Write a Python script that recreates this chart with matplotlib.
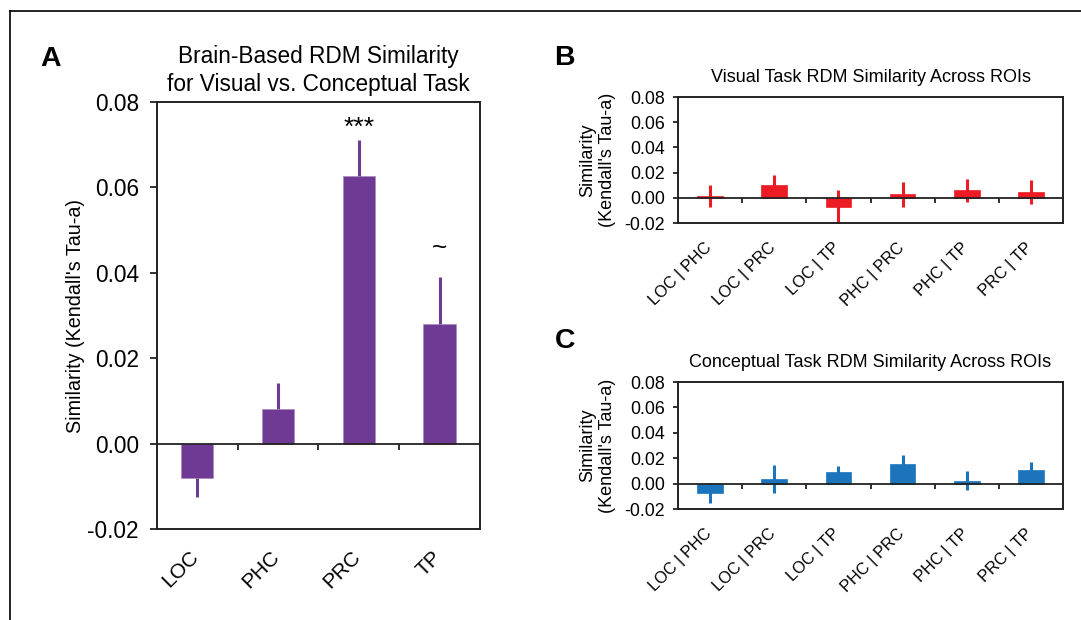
import numpy as np
import matplotlib
matplotlib.use("Agg")
import matplotlib.pyplot as plt
from matplotlib.lines import Line2D

plt.rcParams['font.family'] = ['Liberation Sans', 'DejaVu Sans']

# panel A data
rois = ['LOC', 'PHC', 'PRC', 'TP']
task_sim = [-0.008, 0.0082, 0.0627, 0.028]
task_err = [0.0045, 0.006, 0.0085, 0.011]
sig_marks = ['', '', '***', '~']

# panels B and C data
pairs = ['LOC | PHC', 'LOC | PRC', 'LOC | TP', 'PHC | PRC', 'PHC | TP', 'PRC | TP']
visual_sim = [0.0015, 0.0101, -0.0072, 0.0027, 0.0059, 0.0045]
visual_err = [0.0085, 0.0083, 0.0133, 0.0096, 0.0092, 0.0095]
concept_sim = [-0.0074, 0.0037, 0.0089, 0.0155, 0.0024, 0.011]
concept_err = [0.0079, 0.0112, 0.0050, 0.0074, 0.0072, 0.0063]

yticks = [-0.02, 0.0, 0.02, 0.04, 0.06, 0.08]
ytick_labels = ['-0.02', '0.00', '0.02', '0.04', '0.06', '0.08']

purple = '#6e3a93'
red = '#ed1c24'
blue = '#1c75bc'

fig = plt.figure(figsize=(10.81, 6.2), dpi=100)

# thin frame lines at the top and left of the figure
fig.add_artist(Line2D([0.0093, 1], [0.982, 0.982], color='black', lw=1.2))
fig.add_artist(Line2D([0.0093, 0.0093], [0, 0.982], color='black', lw=1.2))


def bar_panel(ax, labels, vals, errs, color, tick_fs, lab_fs, tlen, ytl, ypad, xpad):
    x = np.arange(len(labels))
    ax.errorbar(x, vals, yerr=errs, fmt='none', ecolor=color, elinewidth=2.2,
                capsize=0, zorder=2)
    ax.bar(x, vals, width=0.4, color=color, edgecolor='#a98bc0' if color == purple else color,
           linewidth=0.5, zorder=3)
    ax.axhline(0, color='#222222', lw=1.3, zorder=4)
    # tick marks between categories, hanging off the zero line
    bounds = x[:-1] + 0.5
    ax.vlines(bounds, -tlen, 0, color='#222222', lw=1.3, zorder=4)
    ax.set_xlim(-0.5, len(labels) - 0.5)
    ax.set_ylim(-0.02, 0.08)
    ax.set_yticks(yticks)
    ax.set_yticklabels(ytick_labels, fontsize=tick_fs)
    ax.set_xticks(x - 0.1)
    ax.set_xticklabels(labels, rotation=45, ha='right', rotation_mode='anchor',
                       fontsize=lab_fs)
    ax.tick_params(axis='x', length=0, pad=xpad)
    ax.tick_params(axis='y', length=ytl, width=1.3, pad=ypad, color='#222222')
    for s in ax.spines.values():
        s.set_linewidth(1.4)
        s.set_color('#222222')
    return x


# Panel A
axA = fig.add_axes([0.1452, 0.146, 0.2988, 0.6895])
xa = bar_panel(axA, rois, task_sim, task_err, purple, 16.3, 15, 0.0014, 5, 8, 13)
axA.set_ylabel("Similarity (Kendall's Tau-a)", fontsize=14.2, labelpad=2)
axA.set_title('Brain-Based RDM Similarity\nfor Visual vs. Conceptual Task',
              fontsize=16.3, pad=8, linespacing=1.25)
for xi, v, e, m in zip(xa, task_sim, task_err, sig_marks):
    if m == '***':
        axA.text(xi, v + e + 0.0028, m, ha='center', va='center', fontsize=19)
    elif m:
        axA.text(xi, v + e + 0.0068, m, ha='center', va='center', fontsize=19)
fig.text(0.037, 0.8935, 'A', fontsize=20.5, fontweight='bold')

# Panel B
axB = fig.add_axes([0.6272, 0.6403, 0.3562, 0.2032])
bar_panel(axB, pairs, visual_sim, visual_err, red, 12.8, 11.7, 0.004, 3.6, 6, 12)
axB.set_ylabel("Similarity\n(Kendall's Tau-a)", fontsize=13, labelpad=6, linespacing=1.2)
axB.set_title('Visual Task RDM Similarity Across ROIs', fontsize=13, pad=11)
fig.text(0.513, 0.895, 'B', fontsize=20.5, fontweight='bold')

# Panel C
axC = fig.add_axes([0.6272, 0.179, 0.3562, 0.2048])
bar_panel(axC, pairs, concept_sim, concept_err, blue, 12.8, 11.7, 0.004, 3.6, 6, 12)
axC.set_ylabel("Similarity\n(Kendall's Tau-a)", fontsize=13, labelpad=6, linespacing=1.2)
axC.set_title('Conceptual Task RDM Similarity Across ROIs', fontsize=13, pad=11)
fig.text(0.513, 0.4387, 'C', fontsize=20.5, fontweight='bold')

fig.savefig('out.png', dpi=100)
